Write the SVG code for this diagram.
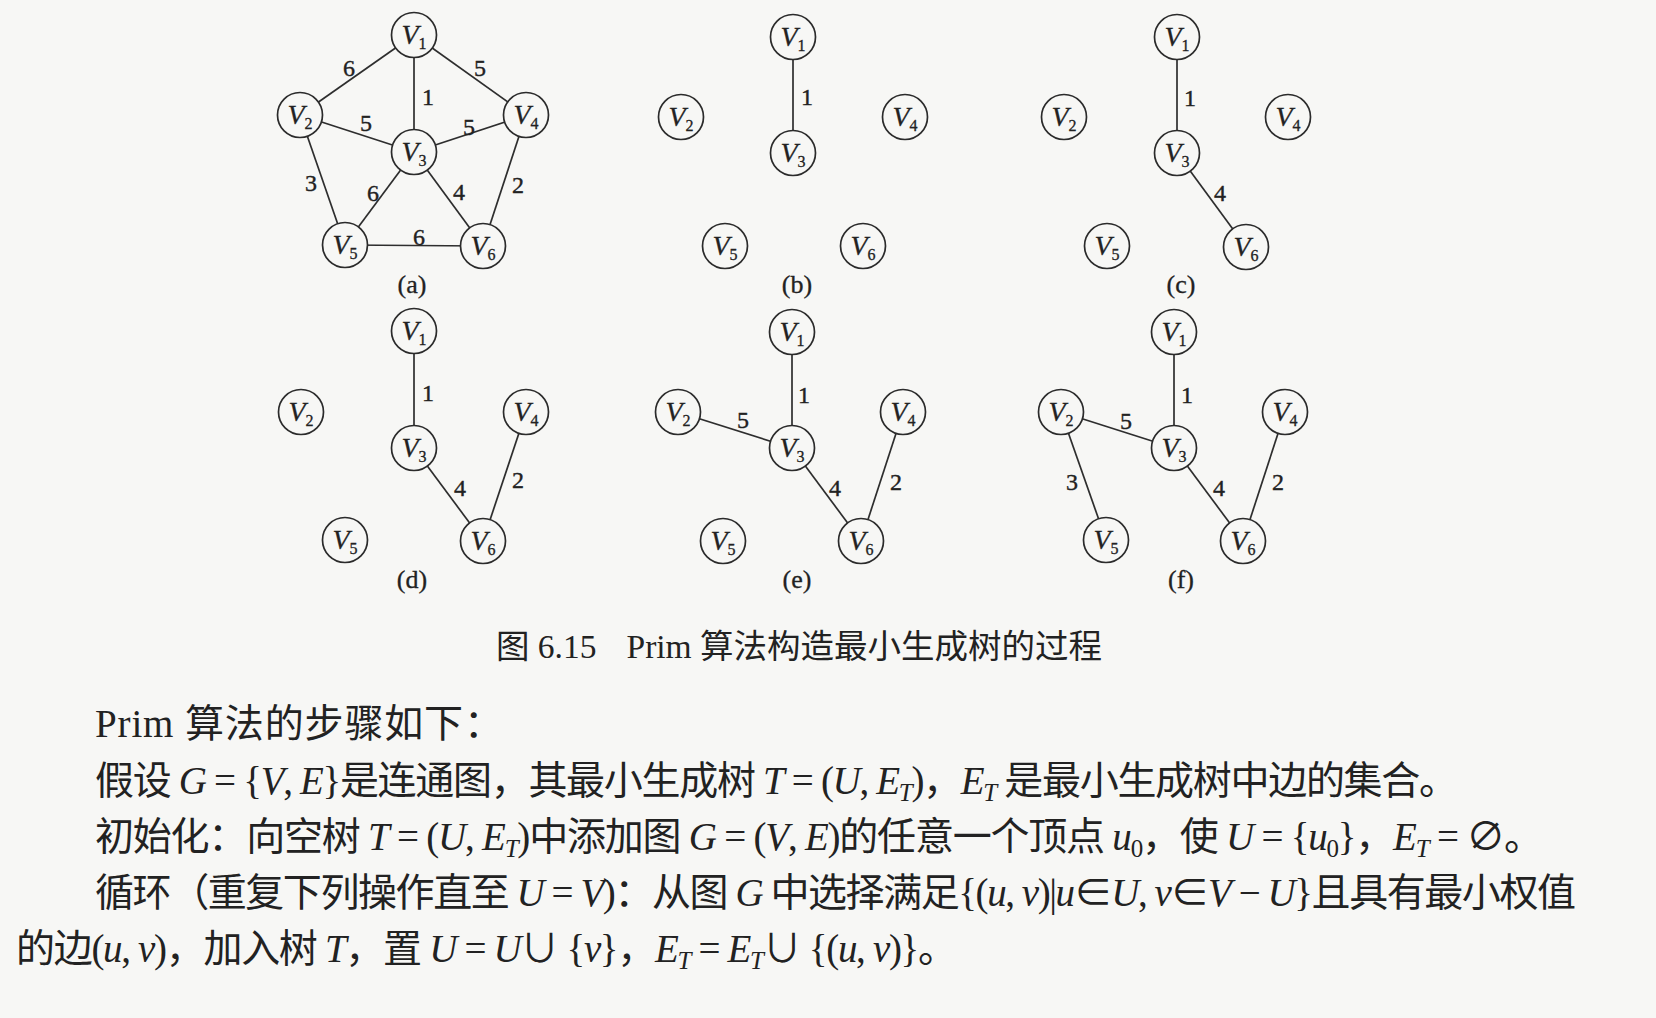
<svg xmlns="http://www.w3.org/2000/svg" width="1656" height="1018" viewBox="0 0 1656 1018">
<style>
.bg{fill:#f7f7f5}
.n circle{fill:#f7f7f5;stroke:#2b2b2b;stroke-width:1.7}
.n text{font-family:"Liberation Serif",serif;font-size:28px;font-style:italic;text-anchor:middle;fill:#222;stroke:#222;stroke-width:0.3}
.n .s{font-style:normal;font-size:16px}
.e line{stroke:#2e2e2e;stroke-width:1.7}
.w{font-family:"Liberation Serif",serif;font-size:24px;text-anchor:middle;fill:#222;stroke:#222;stroke-width:0.4}
.lab{font-family:"Liberation Serif",serif;font-size:26px;text-anchor:middle;fill:#222;stroke:#222;stroke-width:0.3}
.cap{font-family:"Liberation Serif","Noto Sans CJK SC",serif;font-size:33.5px;fill:#222}
.body{font-family:"Liberation Serif","Noto Sans CJK SC",serif;font-size:39px;fill:#222}
.i{font-style:italic}
.sb{font-size:25px}
</style>
<rect class="bg" x="0" y="0" width="1656" height="1018"/>

<g id="connectors" class="e">
<!-- (a) -->
<line x1="414" y1="35" x2="300" y2="115"/>
<line x1="414" y1="35" x2="414" y2="152"/>
<line x1="414" y1="35" x2="526" y2="115"/>
<line x1="300" y1="115" x2="414" y2="152"/>
<line x1="414" y1="152" x2="526" y2="115"/>
<line x1="300" y1="115" x2="345" y2="245"/>
<line x1="414" y1="152" x2="345" y2="245"/>
<line x1="414" y1="152" x2="483" y2="246"/>
<line x1="526" y1="115" x2="483" y2="246"/>
<line x1="345" y1="245" x2="483" y2="246"/>
<!-- (b) -->
<line x1="793" y1="37" x2="793" y2="153"/>
<!-- (c) -->
<line x1="1177" y1="37" x2="1177" y2="153"/>
<line x1="1177" y1="153" x2="1246" y2="247"/>
<!-- (d) -->
<line x1="414" y1="331" x2="414" y2="448"/>
<line x1="414" y1="448" x2="483" y2="541"/>
<line x1="526" y1="412" x2="483" y2="541"/>
<!-- (e) -->
<line x1="792" y1="332" x2="792" y2="448"/>
<line x1="678" y1="412" x2="792" y2="448"/>
<line x1="792" y1="448" x2="861" y2="541"/>
<line x1="903" y1="412" x2="861" y2="541"/>
<!-- (f) -->
<line x1="1174" y1="332" x2="1174" y2="448"/>
<line x1="1061" y1="412" x2="1174" y2="448"/>
<line x1="1061" y1="412" x2="1106" y2="540"/>
<line x1="1174" y1="448" x2="1243" y2="541"/>
<line x1="1285" y1="412" x2="1243" y2="541"/>
</g>

<g id="weights">
<text class="w" x="349" y="76">6</text>
<text class="w" x="480" y="76">5</text>
<text class="w" x="428" y="105">1</text>
<text class="w" x="366" y="131">5</text>
<text class="w" x="469" y="135">5</text>
<text class="w" x="311" y="191">3</text>
<text class="w" x="373" y="201">6</text>
<text class="w" x="459" y="200">4</text>
<text class="w" x="518" y="193">2</text>
<text class="w" x="419" y="245">6</text>

<text class="w" x="807" y="105">1</text>

<text class="w" x="1190" y="106">1</text>
<text class="w" x="1220" y="201">4</text>

<text class="w" x="428" y="401">1</text>
<text class="w" x="460" y="496">4</text>
<text class="w" x="518" y="488">2</text>

<text class="w" x="804" y="403">1</text>
<text class="w" x="743" y="428">5</text>
<text class="w" x="835" y="496">4</text>
<text class="w" x="896" y="490">2</text>

<text class="w" x="1187" y="403">1</text>
<text class="w" x="1126" y="429">5</text>
<text class="w" x="1072" y="490">3</text>
<text class="w" x="1219" y="496">4</text>
<text class="w" x="1278" y="490">2</text>
</g>

<!-- (a) nodes -->
<g id="a-v1" class="n"><circle cx="414" cy="35" r="22.5"/><text x="414" y="44">V<tspan class="s" dy="5">1</tspan></text></g>
<g id="a-v2" class="n"><circle cx="300" cy="115" r="22.5"/><text x="300" y="124">V<tspan class="s" dy="5">2</tspan></text></g>
<g id="a-v3" class="n"><circle cx="414" cy="152" r="22.5"/><text x="414" y="161">V<tspan class="s" dy="5">3</tspan></text></g>
<g id="a-v4" class="n"><circle cx="526" cy="115" r="22.5"/><text x="526" y="124">V<tspan class="s" dy="5">4</tspan></text></g>
<g id="a-v5" class="n"><circle cx="345" cy="245" r="22.5"/><text x="345" y="254">V<tspan class="s" dy="5">5</tspan></text></g>
<g id="a-v6" class="n"><circle cx="483" cy="246" r="22.5"/><text x="483" y="255">V<tspan class="s" dy="5">6</tspan></text></g>
<!-- (b) nodes -->
<g id="b-v1" class="n"><circle cx="793" cy="37" r="22.5"/><text x="793" y="46">V<tspan class="s" dy="5">1</tspan></text></g>
<g id="b-v2" class="n"><circle cx="681" cy="117" r="22.5"/><text x="681" y="126">V<tspan class="s" dy="5">2</tspan></text></g>
<g id="b-v3" class="n"><circle cx="793" cy="153" r="22.5"/><text x="793" y="162">V<tspan class="s" dy="5">3</tspan></text></g>
<g id="b-v4" class="n"><circle cx="905" cy="117" r="22.5"/><text x="905" y="126">V<tspan class="s" dy="5">4</tspan></text></g>
<g id="b-v5" class="n"><circle cx="725" cy="246" r="22.5"/><text x="725" y="255">V<tspan class="s" dy="5">5</tspan></text></g>
<g id="b-v6" class="n"><circle cx="863" cy="246" r="22.5"/><text x="863" y="255">V<tspan class="s" dy="5">6</tspan></text></g>
<!-- (c) nodes -->
<g id="c-v1" class="n"><circle cx="1177" cy="37" r="22.5"/><text x="1177" y="46">V<tspan class="s" dy="5">1</tspan></text></g>
<g id="c-v2" class="n"><circle cx="1064" cy="117" r="22.5"/><text x="1064" y="126">V<tspan class="s" dy="5">2</tspan></text></g>
<g id="c-v3" class="n"><circle cx="1177" cy="153" r="22.5"/><text x="1177" y="162">V<tspan class="s" dy="5">3</tspan></text></g>
<g id="c-v4" class="n"><circle cx="1288" cy="117" r="22.5"/><text x="1288" y="126">V<tspan class="s" dy="5">4</tspan></text></g>
<g id="c-v5" class="n"><circle cx="1107" cy="246" r="22.5"/><text x="1107" y="255">V<tspan class="s" dy="5">5</tspan></text></g>
<g id="c-v6" class="n"><circle cx="1246" cy="247" r="22.5"/><text x="1246" y="256">V<tspan class="s" dy="5">6</tspan></text></g>
<!-- (d) nodes -->
<g id="d-v1" class="n"><circle cx="414" cy="331" r="22.5"/><text x="414" y="340">V<tspan class="s" dy="5">1</tspan></text></g>
<g id="d-v2" class="n"><circle cx="301" cy="412" r="22.5"/><text x="301" y="421">V<tspan class="s" dy="5">2</tspan></text></g>
<g id="d-v3" class="n"><circle cx="414" cy="448" r="22.5"/><text x="414" y="457">V<tspan class="s" dy="5">3</tspan></text></g>
<g id="d-v4" class="n"><circle cx="526" cy="412" r="22.5"/><text x="526" y="421">V<tspan class="s" dy="5">4</tspan></text></g>
<g id="d-v5" class="n"><circle cx="345" cy="540" r="22.5"/><text x="345" y="549">V<tspan class="s" dy="5">5</tspan></text></g>
<g id="d-v6" class="n"><circle cx="483" cy="541" r="22.5"/><text x="483" y="550">V<tspan class="s" dy="5">6</tspan></text></g>
<!-- (e) nodes -->
<g id="e-v1" class="n"><circle cx="792" cy="332" r="22.5"/><text x="792" y="341">V<tspan class="s" dy="5">1</tspan></text></g>
<g id="e-v2" class="n"><circle cx="678" cy="412" r="22.5"/><text x="678" y="421">V<tspan class="s" dy="5">2</tspan></text></g>
<g id="e-v3" class="n"><circle cx="792" cy="448" r="22.5"/><text x="792" y="457">V<tspan class="s" dy="5">3</tspan></text></g>
<g id="e-v4" class="n"><circle cx="903" cy="412" r="22.5"/><text x="903" y="421">V<tspan class="s" dy="5">4</tspan></text></g>
<g id="e-v5" class="n"><circle cx="723" cy="541" r="22.5"/><text x="723" y="550">V<tspan class="s" dy="5">5</tspan></text></g>
<g id="e-v6" class="n"><circle cx="861" cy="541" r="22.5"/><text x="861" y="550">V<tspan class="s" dy="5">6</tspan></text></g>
<!-- (f) nodes -->
<g id="f-v1" class="n"><circle cx="1174" cy="332" r="22.5"/><text x="1174" y="341">V<tspan class="s" dy="5">1</tspan></text></g>
<g id="f-v2" class="n"><circle cx="1061" cy="412" r="22.5"/><text x="1061" y="421">V<tspan class="s" dy="5">2</tspan></text></g>
<g id="f-v3" class="n"><circle cx="1174" cy="448" r="22.5"/><text x="1174" y="457">V<tspan class="s" dy="5">3</tspan></text></g>
<g id="f-v4" class="n"><circle cx="1285" cy="412" r="22.5"/><text x="1285" y="421">V<tspan class="s" dy="5">4</tspan></text></g>
<g id="f-v5" class="n"><circle cx="1106" cy="540" r="22.5"/><text x="1106" y="549">V<tspan class="s" dy="5">5</tspan></text></g>
<g id="f-v6" class="n"><circle cx="1243" cy="541" r="22.5"/><text x="1243" y="550">V<tspan class="s" dy="5">6</tspan></text></g>

<g id="sublabels">
<text class="lab" x="412" y="293">(a)</text>
<text class="lab" x="797" y="293">(b)</text>
<text class="lab" x="1181" y="293">(c)</text>
<text class="lab" x="412" y="588">(d)</text>
<text class="lab" x="797" y="588">(e)</text>
<text class="lab" x="1181" y="588">(f)</text>
</g>

<text class="cap" x="496" y="658">图 6.15<tspan dx="30">Prim 算法构造最小生成树的过程</tspan></text>

<g id="body" class="body">
<text x="95" y="737" textLength="408" lengthAdjust="spacing">Prim 算法的步骤如下：</text>
<text x="95" y="794" textLength="1363" lengthAdjust="spacing">假设 <tspan class="i">G</tspan> = {<tspan class="i">V</tspan>, <tspan class="i">E</tspan>}是连通图，其最小生成树 <tspan class="i">T</tspan> = (<tspan class="i">U</tspan>, <tspan class="i">E</tspan><tspan class="i sb" dy="7">T</tspan><tspan dy="-7">)，</tspan><tspan class="i">E</tspan><tspan class="i sb" dy="7">T</tspan><tspan dy="-7"> 是最小生成树中边的集合。</tspan></text>
<text x="95" y="850" textLength="1448" lengthAdjust="spacing">初始化：向空树 <tspan class="i">T</tspan> = (<tspan class="i">U</tspan>, <tspan class="i">E</tspan><tspan class="i sb" dy="7">T</tspan><tspan dy="-7">)中添加图 </tspan><tspan class="i">G</tspan> = (<tspan class="i">V</tspan>, <tspan class="i">E</tspan>)的任意一个顶点 <tspan class="i">u</tspan><tspan class="sb" dy="7">0</tspan><tspan dy="-7">，使 </tspan><tspan class="i">U</tspan> = {<tspan class="i">u</tspan><tspan class="sb" dy="7">0</tspan><tspan dy="-7">}，</tspan><tspan class="i">E</tspan><tspan class="i sb" dy="7">T</tspan><tspan dy="-7"> = ∅。</tspan></text>
<text x="95" y="906" textLength="1481" lengthAdjust="spacing">循环（重复下列操作直至 <tspan class="i">U</tspan> = <tspan class="i">V</tspan>)：从图 <tspan class="i">G</tspan> 中选择满足{(<tspan class="i">u</tspan>, <tspan class="i">v</tspan>)|<tspan class="i">u</tspan>∈<tspan class="i">U</tspan>, <tspan class="i">v</tspan>∈<tspan class="i">V</tspan> − <tspan class="i">U</tspan>}且具有最小权值</text>
<text x="16" y="962" textLength="941" lengthAdjust="spacing">的边(<tspan class="i">u</tspan>, <tspan class="i">v</tspan>)，加入树 <tspan class="i">T</tspan>，置 <tspan class="i">U</tspan> = <tspan class="i">U</tspan>∪ {<tspan class="i">v</tspan>}，<tspan class="i">E</tspan><tspan class="i sb" dy="7">T</tspan><tspan dy="-7"> = </tspan><tspan class="i">E</tspan><tspan class="i sb" dy="7">T</tspan><tspan dy="-7">∪ {(</tspan><tspan class="i">u</tspan>, <tspan class="i">v</tspan>)}。</text>
</g>
</svg>
